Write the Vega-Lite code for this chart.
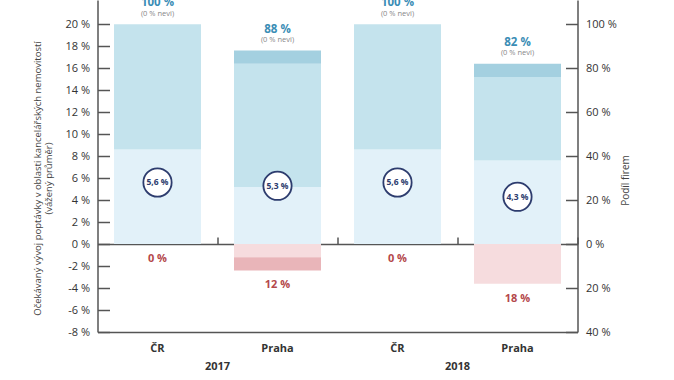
{
  "$schema": "https://vega.github.io/schema/vega-lite/v6.json",
  "autosize": "none",
  "width": 480,
  "height": 332,
  "padding": {"left": 97.5, "top": 0, "right": 96.5, "bottom": 48},
  "background": "white",
  "config": {
    "view": {"stroke": null},
    "font": "Open Sans",
    "axis": {"labelFont": "Open Sans", "titleFont": "Open Sans", "domainColor": "#555", "domainWidth": 1.5, "tickColor": "#555", "tickWidth": 1.5, "labelColor": "#333", "grid": false, "labelOverlap": false}
  },
  "datasets": {
    "segments": [
      {"key": "2017 ČR", "seg": "bledá", "y0": 0, "y1": 43},
      {"key": "2017 ČR", "seg": "střední", "y0": 43, "y1": 100},
      {"key": "2017 Praha", "seg": "bledá", "y0": 0, "y1": 26},
      {"key": "2017 Praha", "seg": "střední", "y0": 26, "y1": 82},
      {"key": "2017 Praha", "seg": "tmavá", "y0": 82, "y1": 88},
      {"key": "2017 Praha", "seg": "růžová světlá", "y0": 0, "y1": -6},
      {"key": "2017 Praha", "seg": "růžová tmavá", "y0": -6, "y1": -12},
      {"key": "2018 ČR", "seg": "bledá", "y0": 0, "y1": 43},
      {"key": "2018 ČR", "seg": "střední", "y0": 43, "y1": 100},
      {"key": "2018 Praha", "seg": "bledá", "y0": 0, "y1": 38},
      {"key": "2018 Praha", "seg": "střední", "y0": 38, "y1": 76},
      {"key": "2018 Praha", "seg": "tmavá", "y0": 76, "y1": 82},
      {"key": "2018 Praha", "seg": "růžová světlá", "y0": 0, "y1": -18}
    ],
    "totals": [
      {"key": "2017 ČR", "year": "2017", "total": 100, "totalLabel": "100 %", "nevi": "(0 % nevi)", "neg": 0, "negLabel": "0 %", "avg": 5.6, "avgLabel": "5,6 %"},
      {"key": "2017 Praha", "year": "2017", "total": 88, "totalLabel": "88 %", "nevi": "(0 % nevi)", "neg": -12, "negLabel": "12 %", "avg": 5.3, "avgLabel": "5,3 %"},
      {"key": "2018 ČR", "year": "2018", "total": 100, "totalLabel": "100 %", "nevi": "(0 % nevi)", "neg": 0, "negLabel": "0 %", "avg": 5.6, "avgLabel": "5,6 %"},
      {"key": "2018 Praha", "year": "2018", "total": 82, "totalLabel": "82 %", "nevi": "(0 % nevi)", "neg": -18, "negLabel": "18 %", "avg": 4.3, "avgLabel": "4,3 %"}
    ],
    "years": [
      {"key": "2017 ČR", "year": "2017"},
      {"key": "2018 ČR", "year": "2018"}
    ]
  },
  "resolve": {"scale": {"y": "independent"}, "axis": {"x": "independent", "y": "independent"}},
  "layer": [
    {
      "layer": [
        {
          "data": {"name": "segments"},
          "mark": {"type": "bar"},
          "encoding": {
            "x": {"field": "key", "type": "nominal", "sort": null,
              "scale": {"paddingInner": 0.275, "paddingOuter": 0.1375},
              "axis": {"orient": "bottom", "title": null, "ticks": false, "labelAngle": 0, "labelExpr": "slice(datum.label, 5)", "labelFontWeight": "bold", "labelFontSize": 11, "labelPadding": 10, "labelColor": "#333"}},
            "y": {"field": "y0", "type": "quantitative",
              "scale": {"domain": [-40, 111], "nice": false, "zero": false},
              "axis": {"orient": "right", "values": [-40, -20, 0, 20, 40, 60, 80, 100], "tickCount": 20, "labelExpr": "abs(datum.value) + ' %'", "tickSize": -12, "labelPadding": 20, "labelFontSize": 11, "title": "Podíl firem", "titleFontSize": 10, "titleFontWeight": "normal", "titleColor": "#444", "titleAngle": 270, "titlePadding": 14, "titleY": 180}},
            "y2": {"field": "y1"},
            "color": {"field": "seg", "type": "nominal", "legend": null,
              "scale": {"domain": ["bledá", "střední", "tmavá", "růžová světlá", "růžová tmavá"], "range": ["#e2f1f9", "#c4e3ed", "#a4d0e0", "#f6dcde", "#e9b5b9"]}}
          }
        },
        {
          "data": {"name": "totals"},
          "mark": {"type": "text", "dy": -21, "fontWeight": "bold", "fontSize": 11.5, "color": "#3a8db5", "baseline": "middle"},
          "encoding": {
            "x": {"field": "key", "type": "nominal", "sort": null},
            "y": {"field": "total", "type": "quantitative"},
            "text": {"field": "totalLabel"}
          }
        },
        {
          "data": {"name": "totals"},
          "mark": {"type": "text", "dy": -10.5, "fontSize": 7.5, "color": "#888", "baseline": "middle"},
          "encoding": {
            "x": {"field": "key", "type": "nominal", "sort": null},
            "y": {"field": "total", "type": "quantitative"},
            "text": {"field": "nevi"}
          }
        },
        {
          "data": {"name": "totals"},
          "mark": {"type": "text", "dy": 15, "fontWeight": "bold", "fontSize": 11, "color": "#b4484b", "baseline": "middle"},
          "encoding": {
            "x": {"field": "key", "type": "nominal", "sort": null},
            "y": {"field": "neg", "type": "quantitative"},
            "text": {"field": "negLabel"}
          }
        },
        {
          "data": {"name": "years"},
          "mark": {"type": "text", "dy": 35, "fontWeight": "bold", "fontSize": 11, "color": "#333", "baseline": "middle"},
          "encoding": {
            "x": {"field": "key", "type": "nominal", "sort": null, "bandPosition": 1.1897},
            "y": {"datum": -40, "type": "quantitative"},
            "text": {"field": "year"}
          }
        }
      ]
    },
    {
      "layer": [
        {
          "data": {"name": "totals"},
          "mark": {"type": "point", "filled": true, "fill": "white", "stroke": "#2d3c6e", "strokeWidth": 1.8, "size": 800, "shape": "circle", "opacity": 1},
          "encoding": {
            "x": {"field": "key", "type": "nominal", "sort": null,
              "axis": {"orient": "top", "offset": -244, "labels": false, "ticks": true, "tickBand": "center", "tickOffset": 60, "tickSize": 7, "title": null}},
            "y": {"field": "avg", "type": "quantitative",
              "scale": {"domain": [-8, 22.2], "nice": false, "zero": false},
              "axis": {"orient": "left", "values": [-8, -6, -4, -2, 0, 2, 4, 6, 8, 10, 12, 14, 16, 18, 20], "tickCount": 30, "labelExpr": "datum.value + ' %'", "tickSize": -12, "labelPadding": 20, "labelFontSize": 11,
                "title": ["Očekávaný vývoj poptávky v oblasti kancelářských nemovitostí", "(vážený průměr)"], "titleFontSize": 9.5, "titleFontWeight": "normal", "titleColor": "#444", "titlePadding": 11, "titleY": 178}}
          }
        },
        {
          "data": {"name": "totals"},
          "mark": {"type": "text", "fontWeight": "bold", "fontSize": 8.5, "color": "#2d3c6e", "baseline": "middle"},
          "encoding": {
            "x": {"field": "key", "type": "nominal", "sort": null},
            "y": {"field": "avg", "type": "quantitative"},
            "text": {"field": "avgLabel"}
          }
        }
      ]
    }
  ]
}
